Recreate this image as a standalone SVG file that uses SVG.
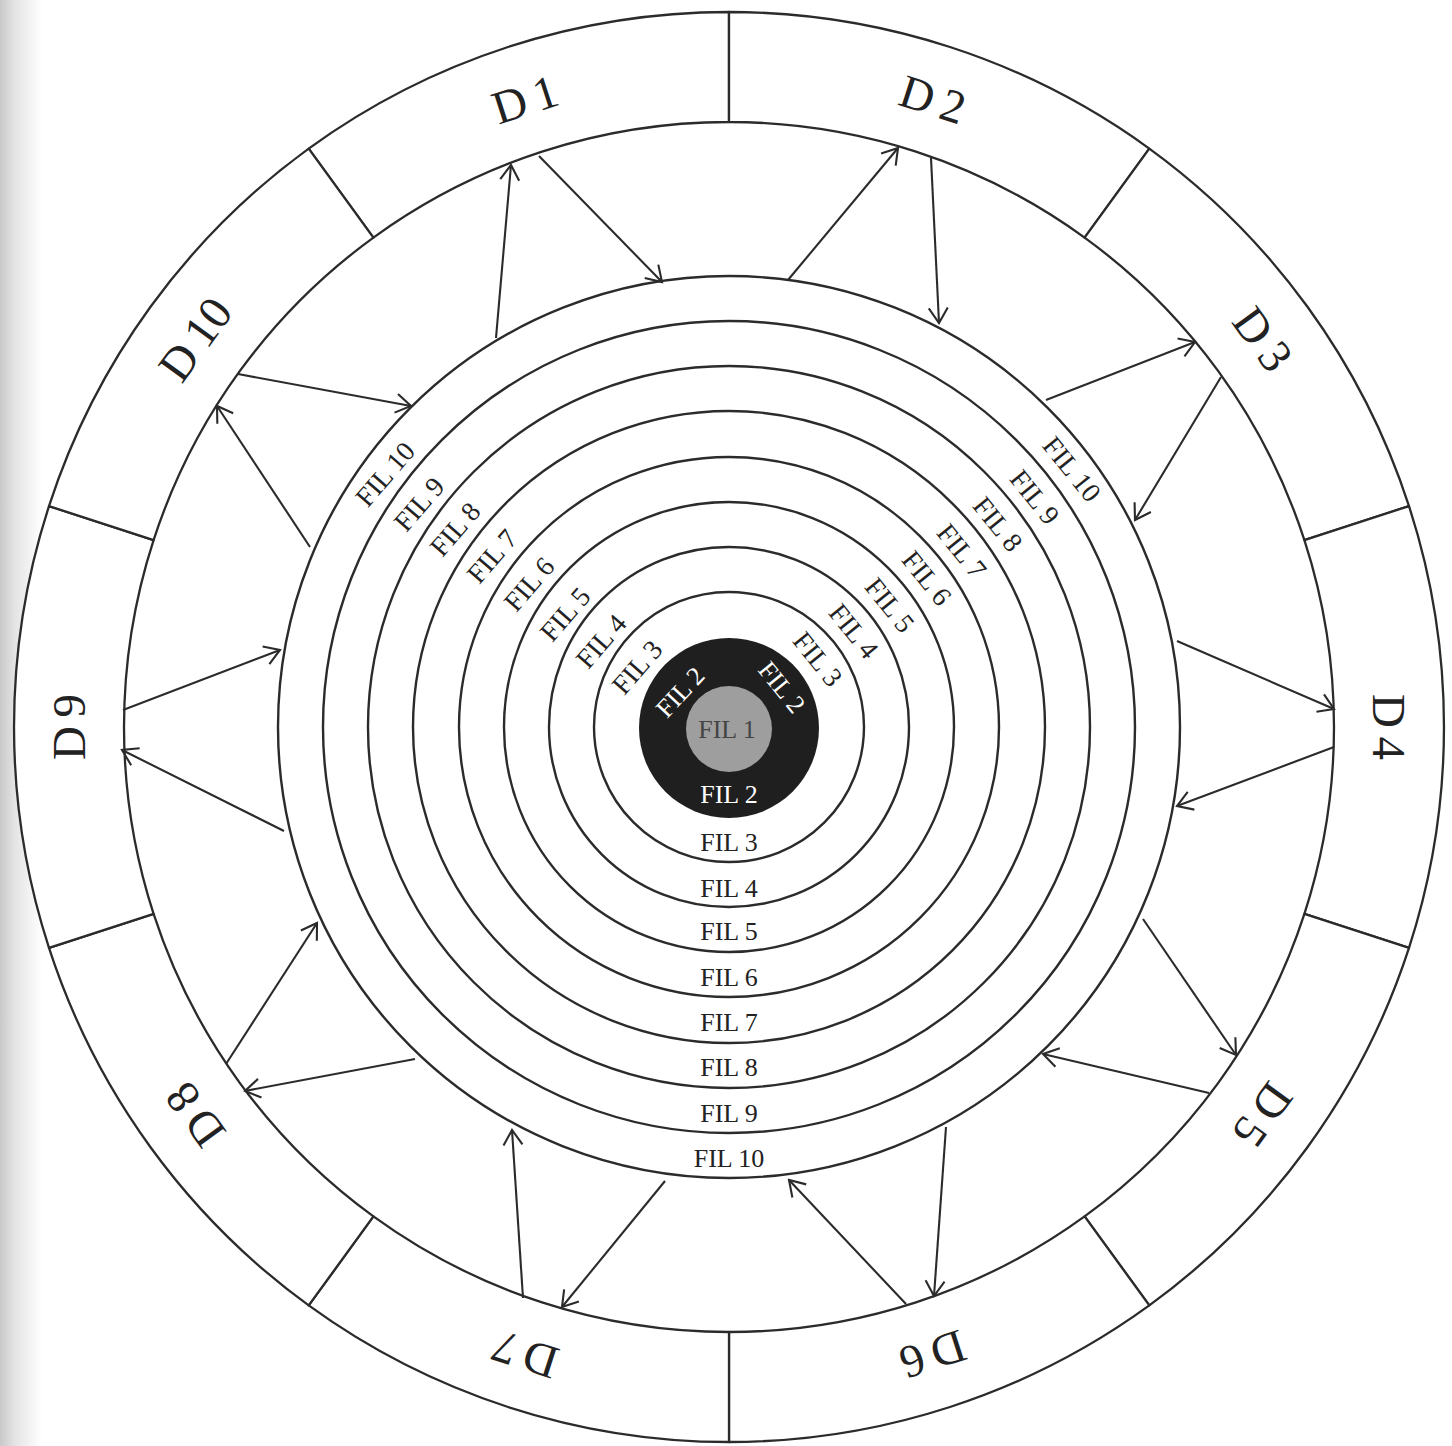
<svg xmlns="http://www.w3.org/2000/svg" width="1452" height="1446" viewBox="0 0 1452 1446">
<defs>
<style>
.sec{fill:#fff;stroke:#2b2b2b;stroke-width:2.3;stroke-linejoin:round}
.ring{fill:none;stroke:#2b2b2b;stroke-width:2.4}
.ar{stroke:#2b2b2b;stroke-width:2.1;fill:none;marker-end:url(#ah)}
.f{font-family:"Liberation Serif","Times New Roman",serif;font-size:26px;fill:#222;text-anchor:middle}
.g{font-size:27.5px}
.w{fill:#fff}
.d{font-family:"Liberation Serif","Times New Roman",serif;font-size:47px;fill:#222;text-anchor:middle;word-spacing:-3px}
</style>
<marker id="ah" markerUnits="userSpaceOnUse" markerWidth="24" markerHeight="24" viewBox="-16 -12 18 24" refX="0" refY="0" orient="auto" overflow="visible">
<path d="M-15,-9.5 L0,0 L-15,9.5" fill="none" stroke="#2b2b2b" stroke-width="2.1"/>
</marker>
<linearGradient id="edge" x1="0" y1="0" x2="1" y2="0">
<stop offset="0" stop-color="#c8c8c8"/>
<stop offset="0.35" stop-color="#e4e4e4"/>
<stop offset="1" stop-color="#ffffff"/>
</linearGradient>
</defs>
<rect width="1452" height="1446" fill="#fff"/>
<rect width="42" height="1446" fill="url(#edge)"/>

<g id="D1"><path class="sec" d="M373.4,237.6 L308.7,148.6 A715,715 0 0 1 729,12 L729,122 A605,605 0 0 0 373.4,237.6 Z"/><text class="d" x="729" y="83" transform="rotate(-18 729 727)">D 1</text></g>
<g id="D2"><path class="sec" d="M729,122 L729,12 A715,715 0 0 1 1149.3,148.6 L1084.6,237.6 A605,605 0 0 0 729,122 Z"/><text class="d" x="729" y="83" transform="rotate(18 729 727)">D 2</text></g>
<g id="D3"><path class="sec" d="M1084.6,237.6 L1149.3,148.6 A715,715 0 0 1 1409,506.1 L1304.4,540.1 A605,605 0 0 0 1084.6,237.6 Z"/><text class="d" x="729" y="83" transform="rotate(54 729 727)">D 3</text></g>
<g id="D4"><path class="sec" d="M1304.4,540.1 L1409,506.1 A715,715 0 0 1 1409,947.9 L1304.4,913.9 A605,605 0 0 0 1304.4,540.1 Z"/><text class="d" x="729" y="83" transform="rotate(90 729 727)">D 4</text></g>
<g id="D5"><path class="sec" d="M1304.4,913.9 L1409,947.9 A715,715 0 0 1 1149.3,1305.4 L1084.6,1216.4 A605,605 0 0 0 1304.4,913.9 Z"/><text class="d" x="729" y="83" transform="rotate(126 729 727)">D 5</text></g>
<g id="D6"><path class="sec" d="M1084.6,1216.4 L1149.3,1305.4 A715,715 0 0 1 729,1442 L729,1332 A605,605 0 0 0 1084.6,1216.4 Z"/><text class="d" x="729" y="83" transform="rotate(162 729 727)">D 6</text></g>
<g id="D7"><path class="sec" d="M729,1332 L729,1442 A715,715 0 0 1 308.7,1305.4 L373.4,1216.4 A605,605 0 0 0 729,1332 Z"/><text class="d" x="729" y="83" transform="rotate(198 729 727)">D 7</text></g>
<g id="D8"><path class="sec" d="M373.4,1216.4 L308.7,1305.4 A715,715 0 0 1 49,947.9 L153.6,913.9 A605,605 0 0 0 373.4,1216.4 Z"/><text class="d" x="729" y="83" transform="rotate(234 729 727)">D 8</text></g>
<g id="D9"><path class="sec" d="M153.6,913.9 L49,947.9 A715,715 0 0 1 49,506.1 L153.6,540.1 A605,605 0 0 0 153.6,913.9 Z"/><text class="d" x="729" y="83" transform="rotate(270 729 727)">D 9</text></g>
<g id="D10"><path class="sec" d="M153.6,540.1 L49,506.1 A715,715 0 0 1 308.7,148.6 L373.4,237.6 A605,605 0 0 0 153.6,540.1 Z"/><text class="d" x="729" y="83" transform="rotate(306 729 727)">D 10</text></g>

<g id="connectors">
<line class="ar" x1="496" y1="338" x2="511" y2="165"/>
<line class="ar" x1="539" y1="156" x2="662" y2="282"/>
<line class="ar" x1="788" y1="280" x2="898" y2="148"/>
<line class="ar" x1="931" y1="158" x2="939" y2="323"/>
<line class="ar" x1="1046" y1="400" x2="1195" y2="342"/>
<line class="ar" x1="1221" y1="377" x2="1135" y2="520"/>
<line class="ar" x1="1177" y1="641" x2="1334" y2="709"/>
<line class="ar" x1="1334" y1="747" x2="1177" y2="806"/>
<line class="ar" x1="1143" y1="919" x2="1236" y2="1055"/>
<line class="ar" x1="1209" y1="1093" x2="1043" y2="1054"/>
<line class="ar" x1="946" y1="1127" x2="934" y2="1296"/>
<line class="ar" x1="906" y1="1304" x2="789" y2="1180"/>
<line class="ar" x1="665" y1="1181" x2="562" y2="1307"/>
<line class="ar" x1="523" y1="1298" x2="512" y2="1130"/>
<line class="ar" x1="415" y1="1059" x2="245" y2="1091"/>
<line class="ar" x1="226" y1="1064" x2="317" y2="923"/>
<line class="ar" x1="284" y1="831" x2="122" y2="750"/>
<line class="ar" x1="123" y1="710" x2="280" y2="650"/>
<line class="ar" x1="310" y1="547" x2="217" y2="406"/>
<line class="ar" x1="238" y1="374" x2="411" y2="406"/>
</g>

<g id="FIL10"><circle class="ring" cx="729" cy="727" r="451"/>
<text class="f g" y="9.5" transform="translate(385,474) rotate(-49)">FIL 10</text>
<text class="f g" y="9.5" transform="translate(1072,469) rotate(51)">FIL 10</text>
<text class="f" x="729" y="1167">FIL 10</text></g>
<g id="FIL9"><circle class="ring" cx="729" cy="727" r="406"/>
<text class="f g" y="9.5" transform="translate(419,504) rotate(-49)">FIL 9</text>
<text class="f g" y="9.5" transform="translate(1035,497) rotate(51)">FIL 9</text>
<text class="f" x="729" y="1122">FIL 9</text></g>
<g id="FIL8"><circle class="ring" cx="729" cy="727" r="361"/>
<text class="f g" y="9.5" transform="translate(455,529) rotate(-49)">FIL 8</text>
<text class="f g" y="9.5" transform="translate(998,524) rotate(51)">FIL 8</text>
<text class="f" x="729" y="1076">FIL 8</text></g>
<g id="FIL7"><circle class="ring" cx="729" cy="727" r="316"/>
<text class="f g" y="9.5" transform="translate(492,556) rotate(-49)">FIL 7</text>
<text class="f g" y="9.5" transform="translate(962,551) rotate(51)">FIL 7</text>
<text class="f" x="729" y="1031">FIL 7</text></g>
<g id="FIL6"><circle class="ring" cx="729" cy="727" r="270"/>
<text class="f g" y="9.5" transform="translate(529,584) rotate(-49)">FIL 6</text>
<text class="f g" y="9.5" transform="translate(927,578) rotate(51)">FIL 6</text>
<text class="f" x="729" y="986">FIL 6</text></g>
<g id="FIL5"><circle class="ring" cx="729" cy="727" r="225"/>
<text class="f g" y="9.5" transform="translate(565,614) rotate(-49)">FIL 5</text>
<text class="f g" y="9.5" transform="translate(890,605) rotate(51)">FIL 5</text>
<text class="f" x="729" y="940">FIL 5</text></g>
<g id="FIL4"><circle class="ring" cx="729" cy="727" r="180"/>
<text class="f g" y="9.5" transform="translate(601,641) rotate(-49)">FIL 4</text>
<text class="f g" y="9.5" transform="translate(854,631) rotate(51)">FIL 4</text>
<text class="f" x="729" y="897">FIL 4</text></g>
<g id="FIL3"><circle class="ring" cx="729" cy="727" r="135"/>
<text class="f g" y="9.5" transform="translate(637,667) rotate(-49)">FIL 3</text>
<text class="f g" y="9.5" transform="translate(818,659) rotate(51)">FIL 3</text>
<text class="f" x="729" y="851">FIL 3</text></g>
<g id="FIL2"><circle cx="729" cy="728" r="90" fill="#1f1f1f"/>
<text class="f w" y="9" transform="translate(680,692) rotate(-47)">FIL 2</text>
<text class="f w" y="9" transform="translate(782,687) rotate(51)">FIL 2</text>
<text class="f w" x="729" y="803">FIL 2</text></g>
<g id="FIL1"><circle cx="729" cy="729" r="43" fill="#9e9e9e"/>
<text class="f" x="727" y="738" style="fill:#444">FIL 1</text></g>
</svg>
